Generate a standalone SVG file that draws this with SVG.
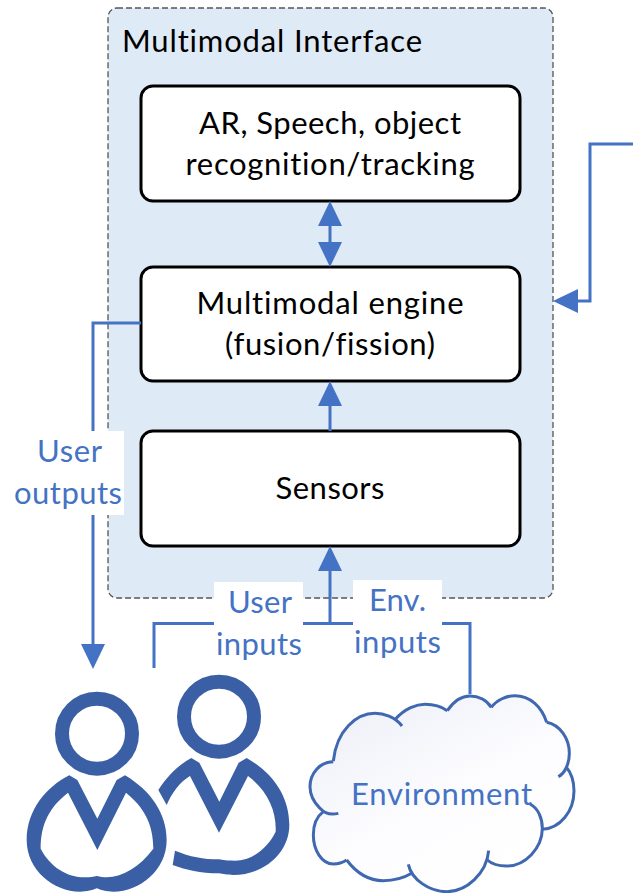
<svg xmlns="http://www.w3.org/2000/svg" width="633" height="893" viewBox="0 0 633 893">
<style>
text{font-family:"Lato","Carlito","Open Sans",sans-serif;font-size:31px;text-anchor:middle;font-variant-ligatures:none}
.b{fill:#fff;stroke:#000;stroke-width:3}
.k{fill:#000}
.u{fill:#4472C4}
.c{fill:none;stroke:#4472C4;stroke-width:3}
.a{fill:#4472C4;stroke:none}
.p{fill:#3A5FA5;fill-rule:evenodd}
</style>
<defs>
<linearGradient id="cg" x1="0" y1="0" x2="0.75" y2="1"><stop offset="0" stop-color="#ECEEF7"/><stop offset="0.6" stop-color="#FDFDFF"/><stop offset="1" stop-color="#fff"/></linearGradient>
</defs>
<rect width="633" height="893" fill="#fff"/>
<g id="panel">
<rect x="108" y="8" width="445" height="590" rx="9" fill="#DEEAF6" stroke="#555" stroke-width="1.3" stroke-dasharray="6 3"/>
<text x="272" y="52" class="k" textLength="300">Multimodal Interface</text>
</g>
<g id="node-ar"><rect class="b" x="141" y="86" width="379" height="115" rx="12"/>
<text x="330" y="134" class="k" textLength="262">AR, Speech, object</text><text x="330" y="175" class="k" textLength="289">recognition/tracking</text></g>
<g id="node-engine"><rect class="b" x="141" y="267" width="379" height="114" rx="12"/>
<text x="330" y="314" class="k" textLength="267">Multimodal engine</text><text x="330" y="355" class="k" textLength="210">(fusion/fission)</text></g>
<g id="node-sensors"><rect class="b" x="141" y="431" width="379" height="115" rx="12"/>
<text x="330" y="499" class="k" textLength="109">Sensors</text></g>
<g id="connectors">
<path class="c" d="M330 220V248"/>
<path class="a" d="M330 201L342 226H318ZM330 267L342 242H318Z"/>
<path class="c" d="M330 431V400"/>
<path class="a" d="M330 381L342 406H318Z"/>
<path class="c" d="M330 623V565"/>
<path class="a" d="M330 546L342 571H318Z"/>
<path class="c" d="M154 668V623.500H470V694"/>
<path class="c" d="M633 144H590V301H572"/>
<path class="a" d="M553 301L578 289V313Z"/>
<path class="c" d="M141 323H93V650"/>
<path class="a" d="M93 669L81 644H105Z"/>
</g>
<g id="label-outputs"><rect x="13" y="431" width="111" height="84" fill="#fff"/>
<text x="69.500" y="462" class="u" textLength="65">User</text><text x="68" y="504" class="u" textLength="108">outputs</text></g>
<g id="label-user-inputs"><rect x="214" y="582" width="89" height="80" fill="#fff"/>
<text x="260" y="613" class="u" textLength="64">User</text><text x="259" y="655" class="u" textLength="86">inputs</text></g>
<g id="label-env-inputs"><rect x="353" y="580" width="89" height="80" fill="#fff"/>
<text x="397.500" y="611" class="u" textLength="57">Env.</text><text x="397.500" y="653" class="u" textLength="87">inputs</text></g>
<g id="node-users" transform="translate(0 650) scale(.33333)">
<circle cx="291" cy="251" r="105" fill="none" stroke="#3A5FA5" stroke-width="42"/>
<circle cx="657" cy="200" r="105" fill="none" stroke="#3A5FA5" stroke-width="42"/>
<path class="p" d="M208 376L232 390L292 506L350 390L375 376C450 420 500 490 500 570C500 660 420 725 340 725C320 725 300 720 291 715C280 720 260 725 240 725C160 725 80 660 80 570C80 480 140 410 208 376ZM204 428C150 470 122 520 122 596C150 650 200 682 255 682C270 682 280 680 291 678C300 680 310 682 320 682C370 680 420 650 460 596C460 520 430 470 378 428L292 600Z"/>
<path class="p" d="M475 420C500 380 535 345 574 324L598 338L658 455L716 338L740 324C820 370 868 440 868 525C868 610 790 675 700 675C680 675 670 672 657 670C600 670 560 660 518 645L525 602C570 620 610 628 657 628C675 632 690 632 705 632C760 632 805 590 827 545C830 480 800 420 744 378L657 548L570 378C540 395 515 430 500 465Z"/>
</g>
<g id="node-environment">
<g transform="translate(290 660) scale(.33333)">
<path fill="url(#cg)" d="M130 303C140 210 200 160 255 160C280 160 300 168 318 175C345 145 380 133 405 133C430 133 455 140 472 152C490 125 515 108 540 108C565 108 590 120 604 142C620 120 650 107 675 107C720 107 755 140 770 187C810 195 838 235 838 280C838 295 835 310 828 322C845 340 852 365 852 392C852 455 810 505 757 508C757 565 705 618 650 618C625 618 605 612 592 600C590 640 530 695 470 695C420 695 380 665 365 640C340 655 310 662 280 662C240 662 200 640 170 600C155 610 140 612 130 612C95 612 70 570 70 525C70 495 80 470 100 455C70 425 60 405 60 380C60 340 90 305 130 305Z"/>
<g fill="none" stroke="#3F68B0" stroke-width="9" stroke-linecap="butt">
<path d="M130 303C140 210 200 160 255 160C280 160 315 170 336 198"/>
<path d="M316 178C345 145 380 133 405 133C430 133 455 140 472 152"/>
<path d="M472 152C490 125 515 108 540 108C565 108 590 120 604 142"/>
<path d="M604 142C620 120 650 107 675 107C720 107 755 140 770 187"/>
<path d="M770 187C810 195 838 235 838 280C838 310 825 340 805 350"/>
<path d="M828 320C845 340 852 365 852 392C852 455 810 505 757 508"/>
<path d="M720 432C745 445 757 475 757 505C757 565 705 618 650 618C625 618 605 612 592 600"/>
<path d="M596 572C590 640 530 695 470 695C420 695 365 660 355 613"/>
<path d="M365 640C340 655 310 662 280 662C240 662 200 640 170 600"/>
<path d="M170 600C155 610 140 612 130 612C95 612 70 570 70 525C70 495 80 470 100 455"/>
<path d="M145 460C125 465 105 462 90 445C70 425 60 405 60 380C60 340 90 305 130 305"/>
</g>
</g>
<text x="441.500" y="805" class="u" textLength="181">Environment</text>
</g>
</svg>
